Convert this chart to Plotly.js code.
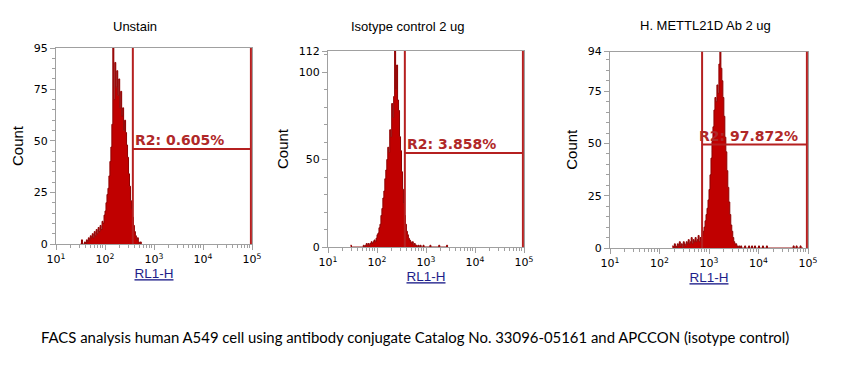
<!DOCTYPE html>
<html>
<head>
<meta charset="utf-8">
<script src="https://cdn.plot.ly/plotly-3.0.1.min.js"></script>
<style>html,body{margin:0;padding:0;background:#fff;}#chart{width:844px;height:369px;}</style>
</head>
<body>
<div id="chart"></div>
<script>
// ---- data ----
const panelTitles = ["Unstain", "Isotype control 2 ug", "H. METTL21D Ab 2 ug"];
const xAxisLabel = "RL1-H";
const yAxisLabel = "Count";
const yMax = [95, 112, 94];
const yTickVals = [[0, 25, 50, 75, 95], [0, 50, 100, 112], [0, 25, 50, 75, 94]];
const xTickVals = [10, 100, 1000, 10000, 100000];
const xTickText = ["10<sup>1</sup>", "10<sup>2</sup>", "10<sup>3</sup>", "10<sup>4</sup>", "10<sup>5</sup>"];
const binLogStep = 0.02;            // channel width in decades
const binLogStart = [1.50, 1.46, 2.26];

const unstainCounts = [0,2,0,0,1,0,2,1,3,2,4,3,5,3,6,4,7,5,8,6,9,7,11,10,14,16,20,24,27,33,40,47,58,95,70,88,76,84,72,80,66,74,62,66,55,60,54,48,42,34,28,21,17,13,9,6,4,2,3,1,0,1,0];
const isotypeCounts = [1,0,0,0,0,0,0,0,0,0,0,0,0,1,0,1,2,1,2,1,2,3,2,3,4,3,5,7,8,11,13,18,22,28,32,39,44,50,57,54,67,63,82,74,86,112,90,104,84,78,63,55,43,33,25,18,13,9,7,5,4,3,2,3,1,2,1,1,0,1,0,1,0,0,1,0,0,0,0,0,0,1,0,0,0,0,0,0,0,0,1,0,0,0,0,0,0,0,1,0];
const mettlCounts = [1,0,2,1,0,2,1,3,1,2,0,3,2,1,3,2,4,2,3,5,2,4,3,5,3,4,6,3,5,4,6,8,10,13,16,19,23,28,35,43,51,58,66,72,70,78,74,88,94,86,80,72,63,53,46,37,29,22,16,11,8,5,3,2,2,1,0,1,0,1,0,0,0,1,0,0,0,1,0,0,1,0,0,1,0,0,0,1,0,0,0,1,0,0,0,1,0,0,0,0,0,0,0,0,0,0,0,0,0,0,0,0,0,0,0,0,0,0,0,0,0,0,1,0,0,1,0,0,0,1,0,0,0];
const panelCounts = [unstainCounts, isotypeCounts, mettlCounts];

const gateLow = [370, 370, 725];
const gateHigh = [95000, 95000, 95000];
const gateLevel = [46, 53.7, 49.5];
const gateLabels = ["R2: 0.605%", "R2: 3.858%", "R2: 97.872%"];

const caption = "FACS analysis human A549 cell using antibody conjugate Catalog No. 33096-05161 and APCCON (isotype control)";

// ---- layout geometry ----
const W = 844, H = 369;
const boxes = [
  {x0: 56, x1: 252, y0: 48, y1: 244},
  {x0: 328, x1: 524, y0: 51, y1: 247},
  {x0: 610, x1: 808, y0: 51.5, y1: 248}
];
const titleCenters = [[135, 27], [407, 27], [705, 25.5]];
const labelShift = [0, 0, -5];

const histColor = '#8e0000';
const fillColor = '#c00000';
const gateColor = '#b52020';
const axisGray = '#a0a0a0';

const minorX = [];
for (let d = 1; d < 5; d++) for (let k = 2; k <= 9; k++) minorX.push(k * Math.pow(10, d));

const traces = [];
const layout = {
  width: W, height: H,
  margin: {l: 0, r: 0, t: 0, b: 0},
  paper_bgcolor: '#fff', plot_bgcolor: '#fff',
  showlegend: false,
  shapes: [], annotations: []
};

panelCounts.forEach((counts, p) => {
  const xs = counts.map((c, i) => Math.pow(10, binLogStart[p] + i * binLogStep));
  const sfx = p === 0 ? '' : String(p + 1);
  traces.push({
    type: 'scatter', mode: 'lines', x: xs, y: counts,
    xaxis: 'x' + sfx, yaxis: 'y' + sfx,
    line: {color: histColor, width: 1, shape: 'hv'},
    fill: 'tozeroy', fillcolor: fillColor, hoverinfo: 'skip'
  });
  const b = boxes[p];
  layout['xaxis' + sfx] = {
    domain: [b.x0 / W, b.x1 / W], anchor: 'y' + sfx,
    type: 'log', range: [1, 5],
    tickmode: 'array', tickvals: xTickVals, ticktext: xTickText,
    ticks: 'outside', ticklen: 5, tickcolor: axisGray,
    minor: {tickmode: 'array', tickvals: minorX, ticks: 'outside', ticklen: 3, tickcolor: axisGray},
    showline: true, linecolor: axisGray, linewidth: 1, mirror: true,
    showgrid: false, zeroline: false,
    tickfont: {family: 'DejaVu Sans, Verdana, sans-serif', size: 11, color: '#000'},
    title: {text: '<u>' + xAxisLabel + '</u>', standoff: 3,
            font: {family: 'Liberation Sans, Arial, sans-serif', size: 13.5, color: '#1e1e8a'}}
  };
  layout['yaxis' + sfx] = {
    domain: [1 - b.y1 / H, 1 - b.y0 / H], anchor: 'x' + sfx,
    range: [0, yMax[p]],
    tickmode: 'array', tickvals: yTickVals[p],
    ticks: 'outside', ticklen: 5, tickcolor: axisGray,
    minor: {dtick: p === 1 ? 10 : 5, tick0: 0, ticks: 'outside', ticklen: 3, tickcolor: axisGray},
    showline: true, linecolor: axisGray, linewidth: 1, mirror: true,
    showgrid: false, zeroline: false,
    tickfont: {family: 'DejaVu Sans, Verdana, sans-serif', size: 11, color: '#000'},
    title: {text: yAxisLabel, standoff: 6,
            font: {family: 'Liberation Sans, Arial, sans-serif', size: 15, color: '#000'}}
  };
  const xr = 'x' + sfx, yr = 'y' + sfx;
  layout.shapes.push(
    {type: 'line', xref: xr, yref: yr, x0: gateLow[p], x1: gateLow[p], y0: 0, y1: yMax[p], line: {color: gateColor, width: 2}},
    {type: 'line', xref: xr, yref: yr, x0: gateHigh[p], x1: gateHigh[p], y0: 0, y1: yMax[p], line: {color: gateColor, width: 2}},
    {type: 'line', xref: xr, yref: yr, x0: gateLow[p], x1: gateHigh[p], y0: gateLevel[p], y1: gateLevel[p], line: {color: gateColor, width: 2}}
  );
  layout.annotations.push({
    xref: xr, yref: yr, x: Math.log10(gateLow[p]), y: gateLevel[p],
    xanchor: 'left', yanchor: 'bottom', xshift: labelShift[p], yshift: -1,
    text: gateLabels[p], showarrow: false,
    font: {family: 'DejaVu Sans, Verdana, sans-serif', size: 14, color: '#b02828', weight: 'bold'}
  });
  layout.annotations.push({
    xref: 'paper', yref: 'paper', x: titleCenters[p][0] / W, y: 1 - titleCenters[p][1] / H,
    xanchor: 'center', yanchor: 'middle', text: panelTitles[p], showarrow: false,
    font: {family: 'Liberation Sans, Arial, sans-serif', size: 13, color: '#000'}
  });
});

layout.annotations.push({
  xref: 'paper', yref: 'paper', x: 415 / W, y: 1 - 337 / H,
  xanchor: 'center', yanchor: 'middle', text: caption, showarrow: false,
  font: {family: 'Lato, Liberation Sans, sans-serif', size: 14.9, color: '#000'}
});

Plotly.newPlot('chart', traces, layout, {staticPlot: true, displayModeBar: false});
</script>
</body>
</html>
